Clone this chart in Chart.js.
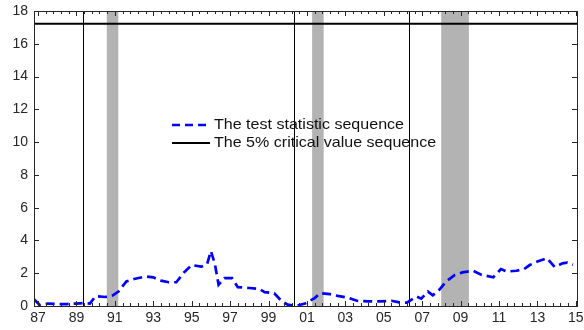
<!DOCTYPE html>
<html>
<head>
<meta charset="utf-8">
<script src="https://cdn.jsdelivr.net/npm/chart.js@4.4.1/dist/chart.umd.min.js"></script>
<style>
  html, body { margin: 0; padding: 0; background: #fff; }
</style>
</head>
<body>
<canvas id="chart" width="584" height="330"></canvas>
<script>
// dates (fractional years) and the test statistic
const dates = [
  1986.8, 1987.1, 1987.5, 1988.0, 1988.5, 1989.0, 1989.4, 1989.7, 1990.0, 1990.5,
  1990.9, 1991.2, 1991.6, 1992.0, 1992.6, 1993.0, 1993.4, 1993.8, 1994.2, 1994.6,
  1995.0, 1995.5, 1995.8, 1996.0, 1996.2, 1996.4, 1996.7, 1997.1, 1997.4, 1998.0,
  1998.5, 1998.8, 1999.3, 1999.7, 2000.0, 2000.4, 2000.9, 2001.4, 2001.7, 2002.2,
  2002.6, 2003.1, 2003.6, 2004.2, 2004.8, 2005.4, 2005.8, 2006.2, 2006.7, 2006.95,
  2007.3, 2007.55, 2007.9, 2008.25, 2008.7, 2009.1, 2009.65, 2010.1, 2010.7, 2011.1,
  2011.4, 2011.9, 2012.3, 2012.6, 2013.0, 2013.5, 2013.9, 2014.3, 2014.55, 2014.85
];
const testStat = [
  0.40, 0.05, 0.15, 0.12, 0.12, 0.15, 0.18, 0.15, 0.60, 0.55,
  0.65, 0.90, 1.50, 1.65, 1.80, 1.75, 1.55, 1.45, 1.45, 2.05,
  2.50, 2.40, 2.55, 3.35, 2.60, 1.30, 1.70, 1.70, 1.15, 1.10,
  1.05, 0.85, 0.78, 0.28, 0.08, 0.00, 0.15, 0.48, 0.78, 0.72,
  0.62, 0.52, 0.32, 0.28, 0.28, 0.32, 0.22, 0.20, 0.58, 0.45,
  0.88, 0.65, 1.00, 1.50, 1.90, 2.05, 2.15, 1.90, 1.75, 2.25,
  2.10, 2.15, 2.25, 2.50, 2.72, 2.92, 2.38, 2.60, 2.65, 2.52
];
const criticalValue = 17.22;

// estimated break dates and shaded recession periods
const breakDates = [1989.32, 2000.33, 2006.32];
const recessionStart = [1990.58, 2001.27, 2007.99];
const recessionEnd = [1991.18, 2001.87, 2009.43];

const xTickYears = [1987, 1989, 1991, 1993, 1995, 1997, 1999, 2001, 2003, 2005, 2007, 2009, 2011, 2013, 2015];
const yTicks = [0, 2, 4, 6, 8, 10, 12, 14, 16, 18];

const xMin = 1986.79;
const xMax = 2015.06;
const axisColor = "#262626";
const tickFont = { family: "'Liberation Sans', Arial, sans-serif", size: 14 };

const decorations = {
  id: "decorations",
  beforeDatasetsDraw(chart) {
    const { ctx, chartArea: a, scales: { x } } = chart;
    ctx.save();
    ctx.fillStyle = "#b3b3b3";
    for (let i = 0; i < recessionStart.length; i++) {
      const x1 = x.getPixelForValue(recessionStart[i]);
      const x2 = x.getPixelForValue(recessionEnd[i]);
      ctx.fillRect(x1, a.top, x2 - x1, a.bottom - a.top);
    }
    ctx.strokeStyle = "#000";
    ctx.lineWidth = 1;
    for (const d of breakDates) {
      const px = Math.round(x.getPixelForValue(d)) + 0.5;
      ctx.beginPath();
      ctx.moveTo(px, a.top);
      ctx.lineTo(px, a.bottom);
      ctx.stroke();
    }
    ctx.restore();
  },
  afterDraw(chart) {
    const { ctx, chartArea: a, scales: { x, y } } = chart;
    ctx.save();
    ctx.strokeStyle = axisColor;
    ctx.lineWidth = 1;
    // frame
    ctx.strokeRect(Math.round(a.left) + 0.5, Math.round(a.top) + 0.5,
      Math.round(a.right - a.left), Math.round(a.bottom - a.top));
    // y ticks, inward on both sides
    ctx.beginPath();
    for (const v of yTicks) {
      const py = Math.round(y.getPixelForValue(v)) + 0.5;
      ctx.moveTo(a.left, py); ctx.lineTo(a.left + 5, py);
      ctx.moveTo(a.right, py); ctx.lineTo(a.right - 5, py);
    }
    // x ticks, minor every 0.4 year
    for (let i = 0; ; i++) {
      const v = 1987 + i * 0.4;
      if (v > xMax) break;
      const len = i % 5 === 0 ? 5 : 3;
      const px = Math.round(x.getPixelForValue(v)) + 0.5;
      ctx.moveTo(px, a.top); ctx.lineTo(px, a.top + len);
      ctx.moveTo(px, a.bottom); ctx.lineTo(px, a.bottom - len);
    }
    ctx.stroke();

    // legend
    const lx = 172;
    const ly = 125;
    ctx.strokeStyle = "#0000ff";
    ctx.lineWidth = 2.5;
    ctx.setLineDash([8, 5]);
    ctx.beginPath();
    ctx.moveTo(lx, ly); ctx.lineTo(lx + 39, ly);
    ctx.stroke();
    ctx.setLineDash([]);
    ctx.strokeStyle = "#000";
    ctx.lineWidth = 2;
    ctx.beginPath();
    ctx.moveTo(lx, ly + 18); ctx.lineTo(lx + 38, ly + 18);
    ctx.stroke();
    ctx.font = "15px 'Liberation Sans', Arial, sans-serif";
    ctx.textBaseline = "middle";
    ctx.fillStyle = "#111";
    ctx.translate(lx + 42, ly);
    ctx.scale(1.07, 1);
    ctx.fillText("The test statistic sequence", 0, 0);
    ctx.fillText("The 5% critical value sequence", 0, 18);
    ctx.restore();
  }
};

new Chart(document.getElementById("chart"), {
  type: "line",
  data: {
    datasets: [
      {
        label: "The test statistic sequence",
        data: dates.map((d, i) => ({ x: d, y: testStat[i] })),
        borderColor: "#0000ff",
        borderWidth: 2.7,
        borderDash: [9, 5],
        pointRadius: 0,
        tension: 0,
        fill: false,
      },
      {
        label: "The 5% critical value sequence",
        data: [{ x: xMin, y: criticalValue }, { x: xMax, y: criticalValue }],
        borderColor: "#000",
        borderWidth: 2,
        pointRadius: 0,
        fill: false,
      },
    ],
  },
  options: {
    responsive: false,
    animation: false,
    devicePixelRatio: 1,
    layout: { padding: { top: 11, right: 7, left: 0, bottom: 0 } },
    plugins: {
      legend: { display: false },
      tooltip: { enabled: false },
    },
    scales: {
      x: {
        type: "linear",
        min: xMin,
        max: xMax,
        grid: { display: false, drawTicks: false },
        border: { display: false },
        afterBuildTicks: (s) => { s.ticks = xTickYears.map((v) => ({ value: v })); },
        afterFit: (s) => { s.height = 24; s.paddingLeft = 0; s.paddingRight = 0; },
        ticks: {
          autoSkip: false,
          maxRotation: 0,
          padding: 4,
          color: axisColor,
          font: tickFont,
          callback: (v) => ("0" + (v % 100)).slice(-2),
        },
      },
      y: {
        min: 0,
        max: 18,
        grid: { display: false, drawTicks: false },
        border: { display: false },
        afterFit: (s) => { s.width = 34; s.paddingTop = 0; s.paddingBottom = 0; },
        ticks: {
          stepSize: 2,
          padding: 6,
          color: axisColor,
          font: tickFont,
        },
      },
    },
  },
  plugins: [decorations],
});
</script>
</body>
</html>
